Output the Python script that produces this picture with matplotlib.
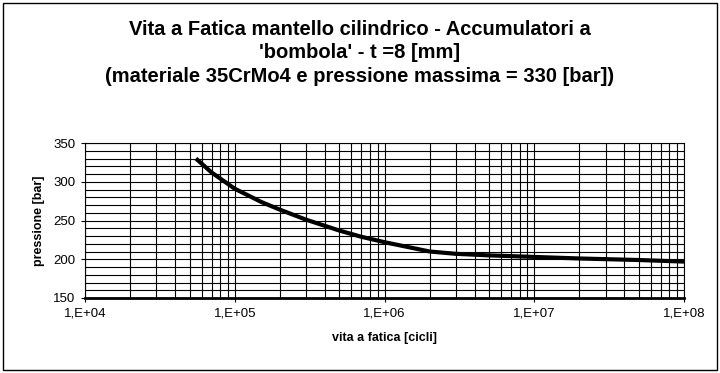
import numpy as np
import matplotlib.pyplot as plt
from matplotlib.ticker import FixedLocator, NullFormatter

plt.rcParams['font.family'] = ['Liberation Sans', 'DejaVu Sans']

# dati
cicli = [5.5e4, 7e4, 1e5, 1.5e5, 2e5, 3e5, 5e5, 7e5, 1e6, 2e6, 3e6, 5e6, 1e7, 2e7, 5e7, 1e8]
pressione = [330, 312, 291, 274, 264, 251, 237, 229, 222, 210, 207, 205, 203, 201, 199, 197]

xticks = [1e4, 1e5, 1e6, 1e7, 1e8]
xticklabels = ["1,E+04", "1,E+05", "1,E+06", "1,E+07", "1,E+08"]
yticks = [150, 200, 250, 300, 350]

titolo = ("Vita a Fatica mantello cilindrico - Accumulatori a\n"
          "'bombola' - t =8 [mm]\n"
          "(materiale 35CrMo4 e pressione massima = 330 [bar])")

fig = plt.figure(figsize=(7.2, 3.73), dpi=100)
fig.set_facecolor("white")
ax = fig.add_axes([85/720, 1 - 298/373, (684 - 85)/720, (298 - 143)/373])

ax.set_xscale("log")
ax.set_xlim(1e4, 1e8)
ax.set_ylim(150, 350)

# griglia
minor_x = [m * 10**e for e in range(4, 8) for m in range(2, 10)]
ax.xaxis.set_minor_locator(FixedLocator(minor_x))
ax.xaxis.set_minor_formatter(NullFormatter())
ax.set_xticks(xticks)
ax.set_xticklabels(xticklabels)
ax.set_yticks(yticks)
ax.set_yticks(np.arange(150, 351, 10), minor=True)
ax.grid(which="both", color="black", linewidth=0.8)
ax.tick_params(which="minor", length=0)
ax.tick_params(which="major", length=3, labelsize=9.5, width=0.8, pad=4)

ax.plot(cicli, pressione, color="black", linewidth=3, solid_capstyle="butt")

for s in ["top", "right", "left"]:
    ax.spines[s].set_linewidth(0.8)
ax.spines["bottom"].set_linewidth(2)

ax.set_xlabel("vita a fatica [cicli]", fontsize=9, fontweight="bold", labelpad=9)
ax.set_ylabel("pressione [bar]", fontsize=9, fontweight="bold", labelpad=6)

fig.text(0.5, 1 - 53/373, titolo, ha="center", va="center", fontsize=14.5,
         fontweight="bold", linespacing=1.3)

# bordo del grafico
fig.patches.append(plt.Rectangle((3/720, 3/373), 714/720, 367/373, transform=fig.transFigure,
                                 fill=False, edgecolor="black", linewidth=1))

fig.savefig("out.png", dpi=100)
